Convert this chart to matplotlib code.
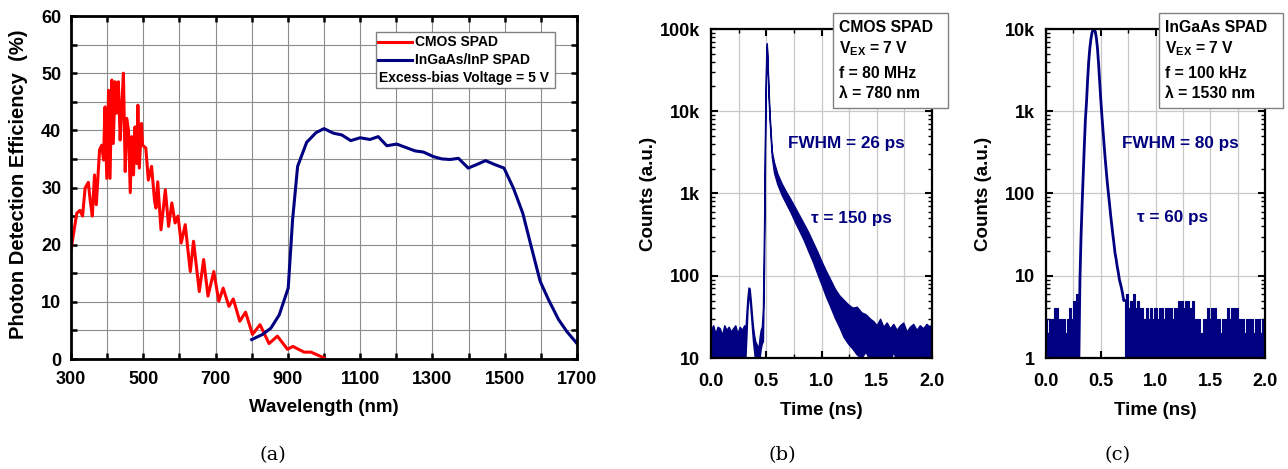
import numpy as np
import matplotlib
matplotlib.use("Agg")
import matplotlib.pyplot as plt
from matplotlib.patches import Rectangle
from matplotlib.lines import Line2D
from matplotlib.ticker import LogLocator, MultipleLocator, NullFormatter, FixedFormatter, FixedLocator

plt.rcParams['font.family'] = ['Liberation Sans', 'DejaVu Sans']
plt.rcParams['font.weight'] = 'bold'
plt.rcParams['mathtext.fontset'] = 'custom'
plt.rcParams['mathtext.rm'] = 'Liberation Sans:bold'
plt.rcParams['mathtext.bf'] = 'Liberation Sans:bold'

RED = '#ff0000'
NAVY = '#000080'

# ---- (a) photon detection efficiency (%) vs wavelength (nm)
cmos_wl = [300, 316, 325, 332, 339, 348, 353, 359, 365, 370, 379, 385, 390, 394, 399, 404, 408,
           413, 417, 422, 426, 431, 436, 440, 445, 450, 454, 459, 464, 468, 473, 477, 482, 485,
           489, 495, 498, 507, 514, 523, 531, 535, 540, 549, 561, 570, 579, 588, 596, 605, 616,
           630, 639, 655, 667, 679, 695, 709, 721, 737, 749, 767, 783, 802, 823, 848, 871, 899,
           914, 945, 964, 1000]
cmos_pde = [19.1, 25.5, 26.0, 25.0, 29.9, 30.9, 27.8, 25.0, 32.2, 27.0, 36.6, 37.4, 34.8, 44.1,
            31.6, 47.0, 31.6, 48.8, 37.7, 48.5, 43.0, 48.5, 38.3, 43.6, 50.0, 32.8, 42.1, 40.0,
            29.1, 38.9, 32.2, 40.6, 34.2, 44.4, 33.4, 41.2, 37.4, 36.9, 31.3, 33.7, 27.8, 26.4,
            31.0, 22.6, 29.6, 23.2, 27.3, 23.8, 25.0, 20.3, 23.5, 15.3, 20.6, 11.8, 17.4, 11.0,
            15.3, 10.1, 12.4, 9.2, 10.5, 6.6, 8.2, 4.3, 6.0, 2.7, 4.0, 1.7, 2.2, 1.2, 1.2, 0.2]
ingaas_wl = [800, 830, 853, 876, 901, 913, 927, 952, 978, 1000, 1026, 1049, 1074, 1100, 1127,
             1150, 1174, 1201, 1252, 1275, 1303, 1326, 1349, 1372, 1399, 1422, 1447, 1473, 1498,
             1524, 1550, 1572, 1598, 1621, 1649, 1672, 1700]
ingaas_pde = [3.4, 4.3, 5.4, 7.7, 12.4, 24.3, 33.7, 37.9, 39.6, 40.3, 39.5, 39.2, 38.2, 38.7,
              38.4, 38.9, 37.3, 37.6, 36.4, 36.2, 35.4, 35.0, 34.9, 35.1, 33.4, 34.0, 34.7, 34.0,
              33.4, 29.9, 25.5, 20.0, 13.6, 10.4, 6.9, 4.8, 2.7]

# ---- (b) CMOS SPAD timing histogram: noisy band given by lower / upper envelope
t_b = [0.00, 0.02, 0.04, 0.06, 0.08, 0.10, 0.12, 0.14, 0.16, 0.18, 0.20, 0.22, 0.24, 0.26, 0.28, 0.30,
       0.31, 0.32, 0.33, 0.34, 0.35, 0.36, 0.37, 0.38, 0.39, 0.40, 0.41, 0.42, 0.43, 0.44, 0.45, 0.46, 0.47,
       0.48, 0.49, 0.50, 0.505, 0.51, 0.52, 0.53, 0.54, 0.55, 0.57, 0.60, 0.64, 0.68, 0.72, 0.76, 0.80,
       0.84, 0.88, 0.92, 0.96, 1.00, 1.04, 1.08, 1.12, 1.16, 1.20, 1.24, 1.28, 1.32, 1.36, 1.40, 1.44,
       1.47, 1.50, 1.53, 1.56, 1.59, 1.62, 1.65, 1.68, 1.71, 1.74, 1.77, 1.80, 1.83, 1.86, 1.89, 1.92,
       1.95, 1.98, 2.00]
hi_b = [22, 25, 20, 24, 23, 19, 25, 22, 24, 21, 23, 25, 20, 24, 22, 25,
        20, 35, 55, 72, 70, 50, 34, 24, 19, 16, 15, 14, 13, 18, 22, 24, 40,
        400, 9000, 52000, 67000, 48000, 20000, 9500, 5600, 3300, 2400, 1750, 1320, 1050, 850, 680, 540,
        430, 340, 260, 200, 150, 115, 90, 70, 58, 51, 45, 41, 42, 36, 34, 30,
        28, 25, 30, 24, 27, 23, 26, 22, 25, 27, 21, 24, 26, 22, 25, 23,
        26, 24, 27]
lo_b = [9, 9, 9, 9, 9, 9, 9, 9, 9, 9, 9, 9, 9, 9, 9, 9,
        9, 18, 38, 56, 54, 36, 24, 16, 12, 9, 9, 9, 9, 10, 13, 15, 16,
        120, 4500, 42000, 60000, 40000, 16000, 7800, 4700, 2800, 1800, 1300, 960, 750, 590, 450, 350,
        270, 200, 150, 108, 78, 56, 42, 31, 24, 18, 15, 13, 11, 10, 12, 9,
        9, 9, 11, 9, 9, 9, 12, 9, 9, 9, 9, 9, 10, 9, 9, 9,
        9, 9, 9]

# ---- (c) InGaAs SPAD timing histogram
c_bin = 0.02
c_floor_left = [3, 2, 3, 3, 4, 4, 3, 3, 3, 2, 3, 4, 3, 5, 6, 6]
t_c_peak = [0.30, 0.31, 0.32, 0.33, 0.34, 0.35, 0.36, 0.37, 0.38, 0.39, 0.40, 0.41, 0.42, 0.43,
            0.44, 0.45, 0.46, 0.47, 0.48, 0.49, 0.50, 0.51, 0.52, 0.53, 0.54, 0.55, 0.56, 0.57,
            0.58, 0.59, 0.60, 0.61, 0.62, 0.63, 0.64, 0.65, 0.66, 0.67, 0.68, 0.69, 0.70, 0.71, 0.72]
c_peak = [1, 9, 30, 75, 170, 380, 800, 1300, 2400, 4000, 5800, 7500, 9000, 9800,
          9900, 9300, 7800, 5800, 3800, 2300, 1400, 900, 600, 400, 270, 190, 135, 100,
          75, 55, 42, 32, 25, 19, 16, 13, 11, 9, 8, 7, 6, 5, 5]
c_floor_right = [5, 6, 4, 5, 6, 4, 5, 4, 4, 3, 4, 3, 4, 3, 4, 3, 4, 4, 3, 4, 4, 4, 3, 4, 4,
                 5, 5, 4, 5, 5, 4, 5, 3, 3, 3, 2, 3, 3, 4, 3, 4, 4, 3, 3, 2, 3, 3, 4, 3, 4,
                 4, 4, 3, 3, 3, 2, 3, 3, 3, 2, 3, 3, 2, 3, 3]

fig = plt.figure(figsize=(12.88, 4.69), dpi=100)
W, H = 1288.0, 469.0


def frame(ax, lw):
    for s in ax.spines.values():
        s.set_linewidth(lw)
        s.set_zorder(5)


# ---------------- panel (a)
ax = fig.add_axes([71 / W, 1 - 359 / H, 506 / W, 343 / H])
ax.plot(cmos_wl, cmos_pde, color=RED, lw=2.2, zorder=3)
ax.plot(ingaas_wl, ingaas_pde, color=NAVY, lw=2.2, zorder=3)
ax.set_xlim(300, 1700)
ax.set_ylim(0, 60)
xt = list(range(300, 1701, 100))
ax.set_xticks(xt)
ax.set_xticklabels([str(v) if (v - 300) % 200 == 0 else '' for v in xt])
yt = list(range(0, 61, 5))
ax.set_yticks(yt)
ax.set_yticklabels([str(v) if v % 10 == 0 else '' for v in yt])
ax.grid(True, color='#8c8c8c', lw=0.8, zorder=0)
ax.tick_params(direction='in', top=True, right=True, length=4, width=1.8, labelsize=13, pad=7)
ax.tick_params(axis='x', pad=9)
frame(ax, 2.0)
ax.set_xlabel('Wavelength (nm)', fontsize=13.5, fontweight='bold')
ax.set_ylabel('Photon Detection Efficiency  (%)', fontsize=14.5, fontweight='bold')
ax.xaxis.set_label_coords(0.5, -0.118)
ax.yaxis.set_label_coords(-0.084, 0.51)

# legend box drawn by hand (third row has no handle)
ax.add_patch(Rectangle((0.603, 0.790), 0.354, 0.163, transform=ax.transAxes,
                       fc='white', ec='#808080', lw=1, zorder=6))
ax.add_line(Line2D([0.607, 0.674], [0.924, 0.924], transform=ax.transAxes, color=RED, lw=2.2, zorder=7))
ax.add_line(Line2D([0.607, 0.674], [0.872, 0.872], transform=ax.transAxes, color=NAVY, lw=2.2, zorder=7))
ax.text(0.680, 0.924, 'CMOS SPAD', transform=ax.transAxes, va='center', fontsize=10, zorder=8)
ax.text(0.680, 0.872, 'InGaAs/InP SPAD', transform=ax.transAxes, va='center', fontsize=10, zorder=8)
ax.text(0.609, 0.819, 'Excess-bias Voltage = 5 V', transform=ax.transAxes, va='center', fontsize=10, zorder=8)


def timing_axes(left, width, ymin, ymax, labels):
    a = fig.add_axes([left / W, 1 - 358 / H, width / W, 329 / H])
    a.set_yscale('log')
    a.set_xlim(0, 2.0)
    a.set_ylim(ymin, ymax)
    a.xaxis.set_major_locator(MultipleLocator(0.5))
    a.xaxis.set_minor_locator(MultipleLocator(0.25))
    a.xaxis.set_major_formatter(matplotlib.ticker.FormatStrFormatter('%.1f'))
    decades = [ymin * 10 ** i for i in range(len(labels))]
    a.yaxis.set_major_locator(FixedLocator(decades))
    a.yaxis.set_major_formatter(FixedFormatter(labels))
    a.yaxis.set_minor_locator(LogLocator(base=10, subs=np.arange(2, 10)))
    a.yaxis.set_minor_formatter(NullFormatter())
    a.grid(True, which='major', color='#c8c8c8', lw=0.9, zorder=0)
    a.grid(True, which='minor', axis='x', color='#c8c8c8', lw=0.9, zorder=0)
    a.tick_params(which='both', direction='in', top=True, right=True, labelsize=13)
    a.tick_params(which='major', length=5, width=1.5)
    a.tick_params(which='minor', length=3, width=1.0)
    a.tick_params(axis='y', pad=8)
    a.tick_params(axis='x', pad=11)
    frame(a, 1.6)
    a.set_xlabel('Time (ns)', fontsize=13.5, fontweight='bold')
    a.set_ylabel('Counts (a.u.)', fontsize=13.5, fontweight='bold')
    a.xaxis.set_label_coords(0.5, -0.135)
    return a


# ---------------- panel (b)
axb = timing_axes(711, 221, 10, 1e5, ['10', '100', '1k', '10k', '100k'])
axb.fill_between(t_b, lo_b, hi_b, facecolor=NAVY, edgecolor=NAVY, lw=1.0, zorder=3)
axb.yaxis.set_label_coords(-0.245, 0.5)

# ---------------- panel (c)
axc = timing_axes(1046, 219, 1, 1e4, ['1', '10', '100', '1k', '10k'])
t_left = np.arange(len(c_floor_left)) * c_bin
t_right = t_c_peak[-1] + np.arange(len(c_floor_right)) * c_bin
axc.fill_between(t_left, 0.5, c_floor_left, step='mid', facecolor=NAVY, edgecolor=NAVY, lw=0.8, zorder=3)
axc.fill_between(t_right, 0.5, c_floor_right, step='mid', facecolor=NAVY, edgecolor=NAVY, lw=0.8, zorder=3)
axc.plot(t_c_peak, c_peak, color=NAVY, lw=2.0, zorder=3)
axc.yaxis.set_label_coords(-0.247, 0.5)


def info_box(x0, x1, xt_, lines):
    fig.add_artist(Rectangle((x0 / W, 1 - 108 / H), (x1 - x0) / W, 95 / H,
                             transform=fig.transFigure, fc='white', ec='#808080', lw=1, zorder=6))
    for y, s in zip([28, 49, 73, 94], lines):
        fig.text(xt_ / W, 1 - y / H, s, va='center', ha='left', fontsize=11.3, zorder=7)


info_box(833, 948, 839, ['CMOS SPAD', r'V$_{\mathbf{EX}}$ = 7 V', 'f = 80 MHz', 'λ = 780 nm'])
info_box(1159, 1283, 1165, ['InGaAs SPAD', r'V$_{\mathbf{EX}}$ = 7 V', 'f = 100 kHz', 'λ = 1530 nm'])

fig.text(846 / W, 1 - 143 / H, 'FWHM = 26 ps', color=NAVY, ha='center', va='center', fontsize=12.3)
fig.text(851 / W, 1 - 218 / H, 'τ = 150 ps', color=NAVY, ha='center', va='center', fontsize=12.3)
fig.text(1180 / W, 1 - 143 / H, 'FWHM = 80 ps', color=NAVY, ha='center', va='center', fontsize=12.3)
fig.text(1173 / W, 1 - 217 / H, 'τ = 60 ps', color=NAVY, ha='center', va='center', fontsize=12.3)

for x, s in [(273, '(a)'), (782, '(b)'), (1118, '(c)')]:
    fig.text(x / W, 1 - 455 / H, s, ha='center', va='center', fontsize=14,
             family='DejaVu Serif', fontweight='normal')

fig.savefig('out.png', dpi=100)
